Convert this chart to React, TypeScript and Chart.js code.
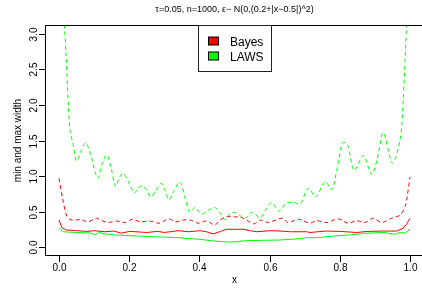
import React, { useEffect, useRef } from "react";
import { Chart, registerables } from "chart.js";

Chart.register(...registerables);

const titleText = "τ=0.05, n=1000, ε− N(0,(0.2+|x−0.5|)^2)";
const xTitle = "x";
const yTitle = "min and max width";
const legendLabels = ["Bayes", "LAWS"];
const xTicks = [0, 0.2, 0.4, 0.6, 0.8, 1.0];
const yTicks = [0, 0.5, 1.0, 1.5, 2.0, 2.5, 3.0];

// Bayes max (red dashed)
const bayesMaxX = [0, 0.01, 0.022, 0.031, 0.045, 0.06, 0.083, 0.107, 0.12, 0.139, 0.164, 0.188, 0.209, 0.231, 0.259, 0.285, 0.313, 0.332, 0.354, 0.373, 0.397, 0.42, 0.444, 0.459, 0.478, 0.497, 0.52, 0.539, 0.556, 0.573, 0.596, 0.618, 0.637, 0.653, 0.682, 0.715, 0.734, 0.763, 0.796, 0.824, 0.848, 0.872, 0.895, 0.919, 0.948, 0.972, 0.986, 0.992, 1.0];
const bayesMaxY = [0.97, 0.69, 0.44, 0.395, 0.38, 0.395, 0.36, 0.41, 0.38, 0.35, 0.37, 0.35, 0.395, 0.36, 0.37, 0.34, 0.4, 0.36, 0.385, 0.385, 0.34, 0.37, 0.315, 0.385, 0.43, 0.43, 0.42, 0.37, 0.33, 0.385, 0.35, 0.385, 0.41, 0.35, 0.395, 0.34, 0.375, 0.35, 0.4, 0.34, 0.375, 0.35, 0.41, 0.35, 0.41, 0.455, 0.57, 0.71, 0.99];

// Bayes min (red solid)
const bayesMinX = [0, 0.008, 0.02, 0.05, 0.08, 0.1, 0.13, 0.155, 0.178, 0.2, 0.22, 0.25, 0.28, 0.3, 0.34, 0.37, 0.402, 0.42, 0.44, 0.46, 0.478, 0.5, 0.525, 0.545, 0.563, 0.6, 0.63, 0.66, 0.706, 0.715, 0.76, 0.8, 0.848, 0.88, 0.924, 0.962, 0.981, 0.992, 1.0];
const bayesMinY = [0.385, 0.28, 0.245, 0.235, 0.225, 0.235, 0.22, 0.23, 0.2, 0.225, 0.22, 0.21, 0.225, 0.21, 0.235, 0.22, 0.235, 0.22, 0.19, 0.225, 0.255, 0.255, 0.255, 0.235, 0.22, 0.235, 0.23, 0.22, 0.22, 0.21, 0.23, 0.225, 0.21, 0.225, 0.23, 0.23, 0.27, 0.34, 0.41];

// LAWS max (green dashed)
const lawsMaxX = [0, 0.01, 0.02, 0.031, 0.04, 0.05, 0.063, 0.076, 0.09, 0.11, 0.123, 0.136, 0.148, 0.161, 0.172, 0.183, 0.198, 0.214, 0.225, 0.237, 0.25, 0.262, 0.276, 0.291, 0.302, 0.313, 0.328, 0.342, 0.349, 0.36, 0.373, 0.387, 0.406, 0.425, 0.444, 0.456, 0.475, 0.487, 0.504, 0.52, 0.535, 0.545, 0.558, 0.573, 0.588, 0.606, 0.626, 0.647, 0.667, 0.687, 0.71, 0.732, 0.758, 0.777, 0.792, 0.808, 0.822, 0.841, 0.867, 0.891, 0.907, 0.924, 0.95, 0.972, 0.981, 0.99, 1.0];
const lawsMaxY = [4.6, 3.6, 2.7, 1.65, 1.45, 1.21, 1.36, 1.47, 1.3, 0.97, 1.18, 1.3, 1.12, 0.855, 0.98, 1.04, 0.92, 0.76, 0.83, 0.865, 0.8, 0.705, 0.8, 0.9, 0.8, 0.667, 0.8, 0.92, 0.88, 0.68, 0.49, 0.56, 0.47, 0.52, 0.56, 0.5, 0.386, 0.48, 0.49, 0.43, 0.42, 0.49, 0.47, 0.41, 0.52, 0.63, 0.51, 0.62, 0.635, 0.61, 0.83, 0.71, 0.925, 0.81, 1.1, 1.47, 1.44, 1.08, 1.29, 1.02, 1.25, 1.61, 1.18, 1.51, 2.08, 3.12, 4.5];

// LAWS min (green solid)
const lawsMinX = [0, 0.012, 0.05, 0.08, 0.093, 0.103, 0.112, 0.13, 0.16, 0.2, 0.226, 0.25, 0.273, 0.3, 0.33, 0.359, 0.4, 0.44, 0.49, 0.535, 0.58, 0.63, 0.68, 0.706, 0.734, 0.781, 0.83, 0.877, 0.924, 0.957, 0.972, 0.986, 1.0];
const lawsMinY = [0.28, 0.22, 0.21, 0.205, 0.2, 0.175, 0.21, 0.19, 0.175, 0.165, 0.16, 0.155, 0.15, 0.145, 0.14, 0.13, 0.115, 0.09, 0.075, 0.095, 0.1, 0.105, 0.12, 0.137, 0.137, 0.16, 0.175, 0.2, 0.21, 0.185, 0.21, 0.2, 0.255];

const RED = "#FF0000";
const GREEN = "#00FF00";
const FONT = "'Liberation Sans', Arial, Helvetica, sans-serif";

const pts = (xs: number[], ys: number[]) => xs.map((x, i) => ({ x, y: ys[i] }));

const decorPlugin = {
  id: "rdecor",
  afterDraw(chart: any) {
    const ctx = chart.ctx;
    const { left, right, top, bottom } = chart.chartArea;
    const xs = chart.scales.x;
    const ys = chart.scales.y;
    ctx.save();
    ctx.strokeStyle = "#000";
    ctx.fillStyle = "#000";
    ctx.lineWidth = 1;
    // box
    ctx.strokeRect(left + 0.5, top + 0.5, right - left - 1, bottom - top - 1);
    // x ticks
    ctx.font = `10px ${FONT}`;
    ctx.textAlign = "center";
    ctx.textBaseline = "alphabetic";
    xTicks.forEach((t) => {
      const X = Math.round(xs.getPixelForValue(t)) + 0.5;
      ctx.beginPath();
      ctx.moveTo(X, bottom);
      ctx.lineTo(X, bottom + 6);
      ctx.stroke();
      ctx.fillText(t.toFixed(1), X, bottom + 14.5);
    });
    // y ticks
    yTicks.forEach((t) => {
      const Y = Math.round(ys.getPixelForValue(t)) + 0.5;
      ctx.beginPath();
      ctx.moveTo(left - 6, Y);
      ctx.lineTo(left, Y);
      ctx.stroke();
      ctx.save();
      ctx.translate(37, Y);
      ctx.rotate(-Math.PI / 2);
      ctx.fillText(t.toFixed(1), 0, 0);
      ctx.restore();
    });
    // axis titles
    ctx.fillText(xTitle, (left + right) / 2, 283);
    ctx.save();
    ctx.translate(21, (top + bottom) / 2);
    ctx.rotate(-Math.PI / 2);
    ctx.fillText(yTitle, 0, 0);
    ctx.restore();
    // main title
    ctx.font = `9px ${FONT}`;
    ctx.fillText(titleText, (left + right) / 2, 12);
    // legend
    const lx = 198, ly = 25, lw = 74, lh = 47;
    ctx.fillStyle = "#fff";
    ctx.fillRect(lx, ly, lw, lh);
    ctx.strokeStyle = "#222";
    ctx.strokeRect(lx + 0.5, ly + 0.5, lw - 1, lh - 1);
    const cols = [RED, GREEN];
    ctx.font = `12px ${FONT}`;
    ctx.textAlign = "left";
    legendLabels.forEach((lab, i) => {
      const cy = 41 + i * 15;
      ctx.fillStyle = cols[i];
      ctx.fillRect(208.5, cy - 4, 10, 8);
      ctx.strokeStyle = "#000";
      ctx.strokeRect(208.5, cy - 4, 10, 8);
      ctx.fillStyle = "#000";
      ctx.fillText(lab, 230, cy + 4.5);
    });
    ctx.restore();
  },
};

export default function App() {
  const ref = useRef<HTMLCanvasElement | null>(null);
  useEffect(() => {
    if (!ref.current) return;
    const mk = (data: any[], color: string, dashed: boolean) => ({
      data,
      borderColor: color,
      backgroundColor: color,
      borderWidth: 1,
      borderDash: dashed ? [4, 3] : [],
      pointRadius: 0,
      fill: false,
      tension: dashed ? 0.3 : 0,
    });
    const chart = new Chart(ref.current, {
      type: "line",
      data: {
        datasets: [
          mk(pts(bayesMinX, bayesMinY), RED, false),
          mk(pts(bayesMaxX, bayesMaxY), RED, true),
          mk(pts(lawsMinX, lawsMinY), GREEN, false),
          mk(pts(lawsMaxX, lawsMaxY), GREEN, true),
        ],
      },
      options: {
        animation: false,
        responsive: false,
        devicePixelRatio: 1,
        layout: { padding: { left: 45, right: 2, top: 25, bottom: 34 } },
        scales: {
          x: { type: "linear", min: -0.04, max: 1.04, display: false },
          y: { type: "linear", min: -0.12, max: 3.12, display: false },
        },
        plugins: { legend: { display: false }, tooltip: { enabled: false }, title: { display: false } },
      },
      plugins: [decorPlugin],
    });
    return () => chart.destroy();
  }, []);
  return (
    <div style={{ position: "fixed", left: 0, top: 0, width: 422, height: 290, overflow: "hidden", background: "#fff" }}>
      <canvas ref={ref} width={426} height={290} style={{ width: 426, height: 290, display: "block" }} />
    </div>
  );
}
